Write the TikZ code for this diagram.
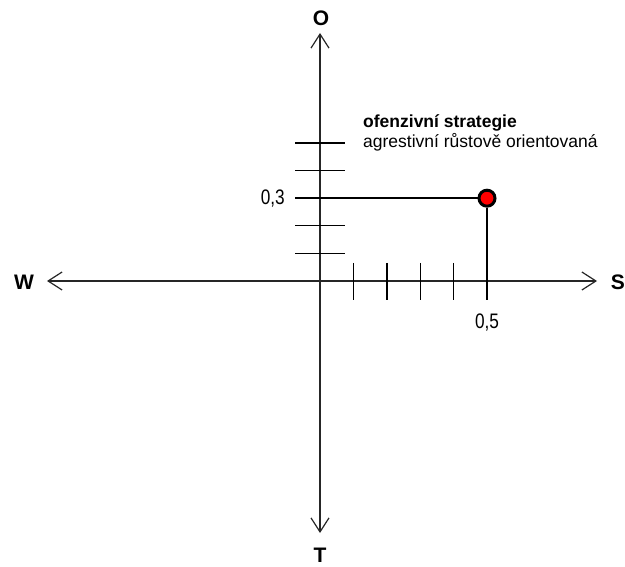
\documentclass[tikz,border=0pt]{standalone}
\usepackage{fontspec}
\setmainfont{Liberation Sans}
\newfontfamily\narrowfont[FakeStretch=0.82]{Liberation Sans}
\usetikzlibrary{arrows.meta, positioning}
\tikzset{
  axis/.style={draw=black!85,line width=1.2pt,<->,>={Straight Barb[length=14pt,width=18pt]}},
  tick/.style={draw=black,line width=1.4pt},
  pole/.style={font=\fontsize{21}{24}\selectfont\bfseries,inner sep=0pt},
  val/.style={font=\narrowfont\fontsize{21}{24}\selectfont,inner sep=0pt},
  note/.style={font=\fontsize{17.5}{20}\selectfont,inner sep=0pt,anchor=base west},
  strat/.style={circle,draw=black,fill=red,line width=3pt,minimum size=16pt,inner sep=0pt}
}
\begin{document}
\begin{tikzpicture}[x=1pt,y=-1pt]
\useasboundingbox (0,0) rectangle (625,567);
\coordinate (o) at (320,281);
\coordinate (westend) at (47,281);
\coordinate (eastend) at (597,281);
\coordinate (northend) at (320,33);
\coordinate (southend) at (320,533);
\node[pole] (O) at (321,18) {O};
\node[pole] (T) at (320,555) {T};
\node[pole] (W) at (24,282) {W};
\node[pole] (S) at (618,282) {S};
\draw[axis] (westend) -- (eastend);
\draw[axis] (southend) -- (northend);
\foreach \k in {1,2,4,5}
  \draw[tick] (295,{281-27.6*\k}) -- (345,{281-27.6*\k});
\foreach \k in {1,...,4}
  \draw[tick] ({320+33.4*\k},263) -- ({320+33.4*\k},300);
\node[strat] (pt) at (487,198.2) {};
\coordinate (ylevel) at (295,198.2);
\coordinate (xfoot) at (487,300);
\draw[tick] (ylevel) -- (pt);
\draw[tick] (pt) -- (xfoot);
\node[val, left=10pt of ylevel] (yval) {0,3};
\node[val, below=14pt of xfoot] (xval) {0,5};
\node[note] (head) at (363,128) {\bfseries ofenzivní strategie};
\node[note] (desc) at (363,148) {agrestivní růstově orientovaná};
\end{tikzpicture}
\end{document}
